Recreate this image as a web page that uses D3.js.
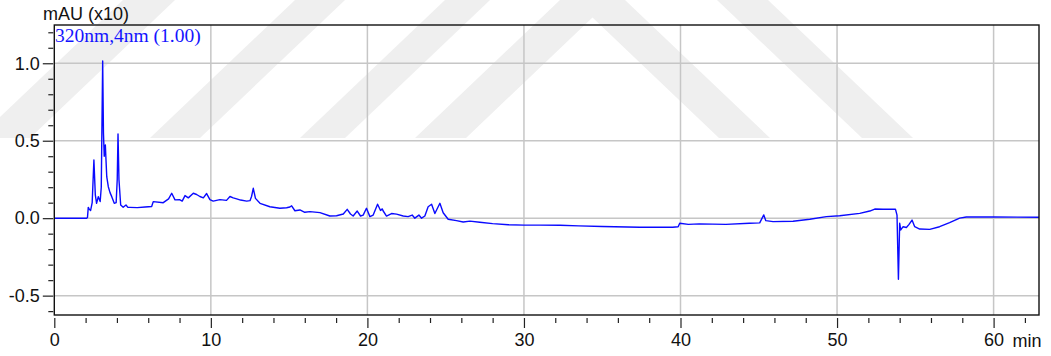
<!DOCTYPE html>
<html>
<head>
<meta charset="utf-8">
<script src="https://cdn.jsdelivr.net/npm/d3@7"></script>
<style>
  html, body { margin: 0; padding: 0; background: #ffffff; }
  svg { display: block; }
  .tick text { font-family: "Liberation Sans", Arial, sans-serif; font-size: 18px; fill: #111; }
</style>
</head>
<body>
<svg id="chart" width="1051" height="356"></svg>
<script>
// Retention time (min) and detector signal (mAU x10) at 320 nm
const retentionMin = [
  0, 1.0, 2.08, 2.12, 2.17, 2.22, 2.32, 2.42, 2.53, 2.62, 2.70, 2.81, 2.86, 2.93, 3.0,
  3.09, 3.14, 3.19, 3.26, 3.30, 3.35, 3.45, 3.56, 3.67, 3.83, 3.95, 4.02, 4.07, 4.13, 4.24,
  4.40, 4.58, 4.70, 4.83, 5.3, 5.8, 6.22, 6.32, 6.96, 7.3, 7.5, 7.71, 8.0, 8.17, 8.35,
  8.56, 8.88, 9.09, 9.3, 9.52, 9.73, 9.94, 10.15, 10.58, 11.0, 11.22, 11.43, 11.65, 11.9,
  12.29, 12.5, 12.6, 12.71, 12.85, 13.14, 13.77, 14.41, 14.84, 15.05, 15.16, 15.37, 15.69,
  16.0, 16.33, 16.97, 17.6, 18.03, 18.46, 18.71, 18.92, 19.09, 19.35, 19.56, 19.73, 19.94,
  20.16, 20.37, 20.65, 20.84, 20.95, 21.0, 21.22, 21.54, 21.86, 22.29, 22.6, 22.86, 23.03,
  23.29, 23.46, 23.67, 23.88, 24.1, 24.31, 24.63, 24.84, 25.16, 25.69, 26.12, 26.55, 27.18,
  28.0, 29.0, 30.0, 31.0, 32.3, 33.5, 35.0, 37.4, 39.5, 39.85, 39.95, 40.5, 41.2, 42.9,
  44.4, 45.06, 45.32, 45.45, 45.91, 47.19, 48.26, 49.32, 50.17, 51.45, 52.09, 52.41, 52.94,
  53.73, 53.83, 53.92, 54.0, 54.07, 54.22, 54.43, 54.6, 54.79, 54.96, 55.28, 55.92, 56.55,
  57.19, 57.83, 58.26, 60.0, 62.9
];
const signalAU = [
  0, 0, 0, 0.005, 0.07, 0.06, 0.05, 0.10, 0.376, 0.15, 0.096, 0.139, 0.125, 0.107, 0.2,
  1.015, 0.55, 0.40, 0.473, 0.38, 0.268, 0.203, 0.165, 0.139, 0.096, 0.10, 0.25, 0.543, 0.25, 0.085,
  0.07, 0.085, 0.07, 0.07, 0.068, 0.072, 0.075, 0.107, 0.10, 0.125, 0.161, 0.118, 0.12, 0.11, 0.146,
  0.131, 0.161, 0.153, 0.14, 0.131, 0.159, 0.12, 0.11, 0.12, 0.115, 0.14, 0.131, 0.125, 0.117,
  0.11, 0.113, 0.14, 0.193, 0.128, 0.096, 0.074, 0.064, 0.067, 0.072, 0.08, 0.048, 0.053,
  0.038, 0.042, 0.036, 0.014, 0.016, 0.027, 0.057, 0.027, 0.014, 0.046, 0.014, 0.02, 0.064,
  0.01, 0.02, 0.09, 0.05, 0.06, 0.048, 0.014, 0.03, 0.026, 0.014, 0.01, 0.02, 0.0,
  0.02, 0.0, 0.014, 0.074, 0.09, 0.03, 0.096, 0.035, -0.007, -0.016, -0.025, -0.019, -0.026,
  -0.035, -0.042, -0.045, -0.045, -0.046, -0.05, -0.054, -0.059, -0.059, -0.055, -0.033, -0.04, -0.037, -0.04,
  -0.033, -0.03, 0.021, -0.016, -0.022, -0.02, -0.007, 0.01, 0.016, 0.031, 0.046, 0.059, 0.058,
  0.058, 0.02, -0.394, -0.033, -0.076, -0.055, -0.06, -0.04, -0.012, -0.055, -0.07, -0.072, -0.055,
  -0.029, 0.0, 0.008, 0.008, 0.006
];

const xMajorTicks = [0, 10, 20, 30, 40, 50, 60];
const yMajorTicks = [-0.5, 0.0, 0.5, 1.0];
const yTickLabels = ["-0.5", "0.0", "0.5", "1.0"];
const yUnitLabel = "mAU (x10)";
const channelLabel = "320nm,4nm (1.00)";
const xUnitLabel = "min";

const svg = d3.select("#chart");
const plotLeft = 54.3, plotRight = 1039, plotTop = 25, plotBottom = 315;

const x = d3.scaleLinear().domain([0, 62.9]).range([plotLeft, plotRight]);
const y = d3.scaleLinear().domain([-0.625, 1.247]).range([plotBottom, plotTop]);

// Background watermark bands
const wm = svg.append("g").attr("fill", "#efefef");
const wy0 = 138, dx = 145;
const slashBands = [[-22, 30], [150, 200], [300, 345]];
slashBands.forEach(([a, b]) => {
  wm.append("polygon").attr("points", [[a, wy0], [b, wy0], [b + dx, 0], [a + dx, 0]].join(" "));
});
wm.append("polygon").attr("points", [[862, wy0], [913, wy0], [913 - dx, 0], [862 - dx, 0]].join(" "));
wm.append("polygon").attr("points",
  [[415, wy0], [415 + dx, 0], [770 - dx, 0], [770, wy0], [719, wy0], [592.5, 17.5], [466, wy0]].join(" "));

// Grid
const grid = svg.append("g").attr("stroke", "#c6c6c6").attr("stroke-width", 1.5);
xMajorTicks.filter(d => d > 0).forEach(d => {
  grid.append("line").attr("x1", x(d)).attr("x2", x(d)).attr("y1", plotTop).attr("y2", plotBottom);
});
yMajorTicks.forEach(d => {
  grid.append("line").attr("x1", plotLeft).attr("x2", plotRight).attr("y1", y(d)).attr("y2", y(d));
});

// Trace
const pts = retentionMin.map((t, i) => [t, signalAU[i]]);
svg.append("path")
  .datum(pts)
  .attr("fill", "none")
  .attr("stroke", "#0a0aff")
  .attr("stroke-width", 1.4)
  .attr("stroke-linejoin", "round")
  .attr("d", d3.line().x(d => x(d[0])).y(d => y(d[1])));

// Frame
svg.append("rect")
  .attr("x", plotLeft).attr("y", plotTop)
  .attr("width", plotRight - plotLeft).attr("height", plotBottom - plotTop)
  .attr("fill", "none").attr("stroke", "#111").attr("stroke-width", 1.4);

// X axis: minor ticks every 2 min, major every 10 min
const xMinor = d3.range(0, 63, 2).filter(d => d % 10 !== 0);
svg.append("g")
  .attr("transform", `translate(0,${plotBottom + 3})`)
  .call(d3.axisBottom(x).tickValues(xMinor).tickSize(5).tickFormat(""))
  .call(g => g.select(".domain").remove())
  .call(g => g.selectAll("line").attr("stroke", "#222").attr("stroke-width", 1.2));
svg.append("g")
  .attr("transform", `translate(0,${plotBottom + 3})`)
  .call(d3.axisBottom(x).tickValues(xMajorTicks).tickSize(10).tickPadding(5).tickFormat(d3.format("d")))
  .call(g => g.select(".domain").remove())
  .call(g => g.selectAll("line").attr("stroke", "#222").attr("stroke-width", 1.2));
svg.append("text")
  .attr("x", x(60) + 19).attr("y", 347)
  .attr("font-family", "Liberation Sans, Arial, sans-serif").attr("font-size", 18).attr("fill", "#111")
  .text(xUnitLabel);

// Y axis: minor ticks every 0.1, major every 0.5
const yMinor = d3.range(-6, 13).map(d => d / 10).filter(d => Math.abs(d * 2 - Math.round(d * 2)) > 1e-6);
svg.append("g")
  .attr("transform", `translate(${plotLeft - 1},0)`)
  .call(d3.axisLeft(y).tickValues(yMinor).tickSize(5).tickFormat(""))
  .call(g => g.select(".domain").remove())
  .call(g => g.selectAll("line").attr("stroke", "#222").attr("stroke-width", 1.2));
svg.append("g")
  .attr("transform", `translate(${plotLeft - 1},0)`)
  .call(d3.axisLeft(y).tickValues(yMajorTicks).tickSize(10.5).tickPadding(3)
    .tickFormat((d, i) => yTickLabels[i]))
  .call(g => g.select(".domain").remove())
  .call(g => g.selectAll("line").attr("stroke", "#222").attr("stroke-width", 1.2));

// Unit and channel labels
svg.append("text")
  .attr("x", 43).attr("y", 20)
  .attr("font-family", "Liberation Sans, Arial, sans-serif").attr("font-size", 18).attr("fill", "#111")
  .text(yUnitLabel);
svg.append("text")
  .attr("x", 55).attr("y", 41.5)
  .attr("font-family", "Liberation Serif, Times New Roman, serif").attr("font-size", 19.5).attr("fill", "#1414ff")
  .text(channelLabel);
</script>
</body>
</html>
